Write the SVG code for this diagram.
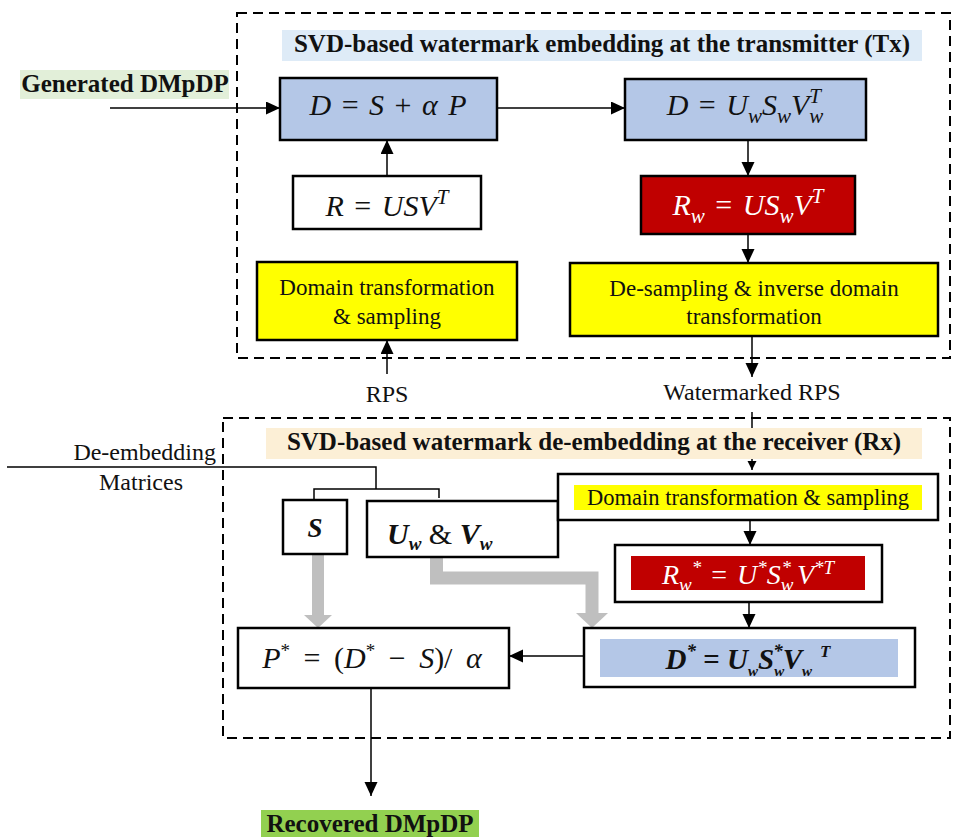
<svg xmlns="http://www.w3.org/2000/svg" width="953" height="837" viewBox="0 0 953 837">
<defs>
<marker id="arr" markerUnits="userSpaceOnUse" markerWidth="15" markerHeight="14" refX="14" refY="6.5" orient="auto"><path d="M0,0 L14,6.5 L0,13 z" fill="#000"/></marker>
<marker id="arrs" markerUnits="userSpaceOnUse" markerWidth="10" markerHeight="10" refX="9" refY="4.5" orient="auto"><path d="M0,0 L9,4.5 L0,9 z" fill="#000"/></marker>
<style>
.box{stroke:#000;stroke-width:2.5}
.dash{fill:none;stroke:#000;stroke-width:2;stroke-dasharray:10 6}
.ln{fill:none;stroke:#000;stroke-width:1.5}
.t{font-family:'Liberation Serif','Times New Roman',serif;fill:#111}
.b{font-weight:bold}
.m{font-family:'Liberation Serif','Times New Roman',serif;font-style:italic;fill:#111;font-size:30px;word-spacing:3px}
.gray{fill:#bfbfbf}
</style>
</defs>
<rect width="953" height="837" fill="#fff"/>

<g id="regions">
<rect class="dash" x="237" y="13" width="713" height="345"/>
<rect class="dash" x="223" y="418" width="727" height="320"/>
</g>

<g id="connectors">
<line class="ln" x1="110" y1="108" x2="280" y2="108" marker-end="url(#arr)"/>
<line class="ln" x1="497" y1="108" x2="625" y2="108" marker-end="url(#arr)"/>
<line class="ln" x1="748" y1="140" x2="748" y2="176" marker-end="url(#arr)"/>
<line class="ln" x1="748" y1="234" x2="748" y2="263" marker-end="url(#arr)"/>
<line class="ln" x1="752" y1="336" x2="752" y2="377" marker-end="url(#arr)"/>
<line class="ln" x1="387" y1="176" x2="387" y2="140" marker-end="url(#arr)"/>
<line class="ln" x1="387" y1="374" x2="387" y2="340" marker-end="url(#arr)"/>
<line class="ln" x1="752" y1="412" x2="752" y2="470" marker-end="url(#arrs)"/>
<line class="ln" x1="750" y1="520" x2="750" y2="545" marker-end="url(#arr)"/>
<line class="ln" x1="749" y1="602" x2="749" y2="628" marker-end="url(#arr)"/>
<line class="ln" x1="584" y1="656" x2="509" y2="656" marker-end="url(#arr)"/>
<line class="ln" x1="371" y1="688" x2="371" y2="796" marker-end="url(#arr)"/>
<polyline class="ln" points="7,467 376,467 376,489"/>
<polyline class="ln" points="314,500 314,489 439,489 439,498"/>
<rect class="gray" x="312" y="554" width="12" height="62"/>
<polygon class="gray" points="304,615 332,615 318,628"/>
<polyline points="436.5,557 436.5,578 592,578 592,614" fill="none" stroke="#bfbfbf" stroke-width="13" stroke-linejoin="miter"/>
<polygon class="gray" points="576,613 608,613 592,628"/>
</g>

<g id="title-tx">
<rect x="282" y="30" width="640" height="31" fill="#deebf7"/>
<text class="t b" x="602" y="52" font-size="25" text-anchor="middle">SVD-based watermark embedding at the transmitter (Tx)</text>
</g>

<g id="generated">
<rect x="20" y="70" width="209" height="29" fill="#e2efd9"/>
<text class="t b" x="125" y="92" font-size="25" text-anchor="middle">Generated DMpDP</text>
</g>

<g id="embed">
<rect class="box" x="280" y="78" width="217" height="62" fill="#b4c7e7"/>
<text class="m" x="388" y="115" text-anchor="middle">D <tspan font-style="normal">=</tspan> S <tspan font-style="normal">+</tspan> α P</text>
</g>

<g id="svd-d">
<rect class="box" x="625" y="79" width="241" height="61" fill="#b4c7e7"/>
<text class="m" x="745" y="115" text-anchor="middle">D <tspan font-style="normal">=</tspan> U<tspan font-size="21" dy="8">w</tspan><tspan dy="-8">S</tspan><tspan font-size="21" dy="8">w</tspan><tspan dy="-8">V</tspan><tspan font-size="21" dy="8">w</tspan><tspan font-size="21" dx="-14" dy="-20">T</tspan></text>
</g>

<g id="rw">
<rect class="box" x="641" y="176" width="214" height="58" fill="#c00000"/>
<text class="m" x="748" y="215" text-anchor="middle" style="fill:#fff">R<tspan font-size="21" dy="8">w</tspan><tspan dy="-8" font-style="normal"> = </tspan>US<tspan font-size="21" dy="8">w</tspan><tspan dy="-8">V</tspan><tspan font-size="21" dy="-12">T</tspan></text>
</g>

<g id="r-usv">
<rect class="box" x="293" y="176" width="188" height="53" fill="#fff"/>
<text class="m" x="387" y="216" text-anchor="middle">R <tspan font-style="normal">=</tspan> USV<tspan font-size="21" dy="-12">T</tspan></text>
</g>

<g id="domain-tx">
<rect class="box" x="257" y="262" width="260" height="78" fill="#ffff00"/>
<text class="t" x="387" y="295" font-size="23" text-anchor="middle">Domain transformation</text>
<text class="t" x="387" y="324" font-size="23" text-anchor="middle">&amp; sampling</text>
</g>

<g id="desampling">
<rect class="box" x="570" y="263" width="368" height="73" fill="#ffff00"/>
<text class="t" x="754" y="296" font-size="23" text-anchor="middle">De-sampling &amp; inverse domain</text>
<text class="t" x="754" y="324" font-size="23" text-anchor="middle">transformation</text>
</g>

<g id="rps">
<text class="t" x="387" y="402" font-size="24" text-anchor="middle">RPS</text>
</g>

<g id="wrps">
<text class="t" x="752" y="400" font-size="24" text-anchor="middle">Watermarked RPS</text>
</g>

<g id="title-rx">
<rect x="266" y="428" width="656" height="31" fill="#fcefd6"/>
<text class="t b" x="594" y="450" font-size="25" text-anchor="middle">SVD-based watermark de-embedding at the receiver (Rx)</text>
</g>

<g id="dematrices">
<text class="t" x="216" y="460" font-size="24" text-anchor="end">De-embedding</text>
<text class="t" x="141" y="490" font-size="24" text-anchor="middle">Matrices</text>
</g>

<g id="s-box">
<rect class="box" x="283" y="500" width="64" height="54" fill="#fff"/>
<text class="t b" x="315" y="537" font-size="27" font-style="italic" text-anchor="middle">S</text>
</g>

<g id="uv-box">
<rect class="box" x="367" y="501" width="191" height="56" fill="#fff"/>
<text class="t b" x="387" y="544" font-size="30" font-style="italic">U<tspan font-size="19" dy="6">w</tspan><tspan dy="-6" font-weight="normal" font-style="normal"> &amp; </tspan>V<tspan font-size="19" dy="6">w</tspan></text>
</g>

<g id="domain-rx">
<rect class="box" x="558" y="474" width="380" height="46" fill="#fff"/>
<rect x="574" y="485" width="348" height="25" fill="#ffff00"/>
<text class="t" x="748" y="505" font-size="22.5" text-anchor="middle">Domain transformation &amp; sampling</text>
</g>

<g id="rw-star">
<rect class="box" x="615" y="545" width="267" height="57" fill="#fff"/>
<rect x="631" y="556" width="234" height="34" fill="#c00000"/>
<text class="m" x="748" y="584" text-anchor="middle" style="fill:#fff;font-size:28px">R<tspan font-size="19" dy="7">w</tspan><tspan font-size="19" dy="-17">*</tspan><tspan dy="10" font-style="normal"> = </tspan>U<tspan font-size="19" dy="-10">*</tspan><tspan dy="10">S</tspan><tspan font-size="19" dy="7">w</tspan><tspan font-size="19" dx="-12" dy="-17">*</tspan><tspan dx="6" dy="10">V</tspan><tspan font-size="19" dy="-10">*T</tspan></text>
</g>

<g id="d-star">
<rect class="box" x="584" y="628" width="331" height="59" fill="#fff"/>
<rect x="600" y="639" width="298" height="38" fill="#b4c7e7"/>
<text class="t b" x="748" y="669" font-size="29" font-style="italic" text-anchor="middle">D<tspan font-size="19" dy="-12">*</tspan><tspan dy="12" font-style="normal"> = </tspan>U<tspan font-size="15" dy="7">w</tspan><tspan dy="-7">S</tspan><tspan font-size="15" dy="7">w</tspan><tspan font-size="19" dx="-11" dy="-19">*</tspan><tspan dy="12">V</tspan><tspan font-size="15" dy="7">w</tspan><tspan font-size="17" dx="8" dy="-19">T</tspan></text>
</g>

<g id="p-star">
<rect class="box" x="238" y="628" width="271" height="60" fill="#fff"/>
<text class="m" x="372" y="668" text-anchor="middle" style="word-spacing:6px">P<tspan font-size="19" dy="-11" font-style="normal">*</tspan><tspan dy="11" font-style="normal"> = (</tspan>D<tspan font-size="19" dy="-11" font-style="normal">*</tspan><tspan dy="11" font-style="normal"> − </tspan>S<tspan font-style="normal">)/ </tspan>α</text>
</g>

<g id="recovered">
<rect x="261" y="810" width="218" height="27" fill="#92d050"/>
<text class="t b" x="370" y="832" font-size="25" text-anchor="middle">Recovered DMpDP</text>
</g>
</svg>
